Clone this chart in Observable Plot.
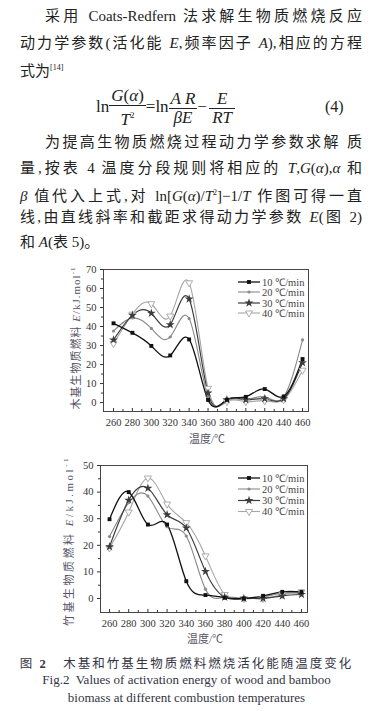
<!DOCTYPE html>
<html><head><meta charset="utf-8">
<script src="https://cdn.jsdelivr.net/npm/d3@7"></script>
<script src="https://cdn.jsdelivr.net/npm/@observablehq/plot@0.6"></script>
<style>
html,body{margin:0;padding:0;background:#fff;}
body{width:373px;height:711px;position:relative;overflow:hidden;font-family:"Liberation Serif","Noto Sans CJK SC",serif;color:#222;}
.ln{position:absolute;font-size:15px;line-height:20px;white-space:nowrap;}
.j{text-align:justify;text-align-last:justify;}
.it{font-style:italic;}
.frac{display:inline-flex;flex-direction:column;align-items:center;vertical-align:middle;line-height:18px;}
.frac .n{border-bottom:1px solid #222;padding:0 2px;}
.frac .d{padding:0 2px;}
.plot{position:absolute;left:0;}
.ylab{position:absolute;font-size:11px;color:#556;white-space:nowrap;transform:translate(-50%,-50%) rotate(-90deg);letter-spacing:1px;}
.xlab{position:absolute;font-size:11px;color:#556;white-space:nowrap;transform:translate(-50%,-50%);}
.cap{position:absolute;left:0;width:373px;text-align:center;white-space:nowrap;color:#334;}
</style></head>
<body>
<div class="ln j" style="top:6px;left:45px;width:317px;">采用 Coats-Redfern 法求解生物质燃烧反应</div>
<div class="ln j" style="top:33px;left:20px;width:342px;">动力学参数(活化能 <span class="it">E</span>,频率因子 <span class="it">A</span>),相应的方程</div>
<div class="ln" style="top:58px;left:20px;">式为<sup style="font-size:8px;">[14]</sup></div>
<div class="ln" style="top:87px;left:96px;line-height:40px;font-size:17px;">ln<span class="frac"><span class="n"><span class="it">G</span>(<span class="it">α</span>)</span><span class="d"><span class="it">T</span><sup style="font-size:9px;">2</sup></span></span>=ln<span class="frac"><span class="n"><span class="it">A R</span></span><span class="d"><span class="it">βE</span></span></span>−<span class="frac" style="margin-left:2px;"><span class="n" style="padding:0 8px;"><span class="it">E</span></span><span class="d"><span class="it">RT</span></span></span></div>
<div class="ln" style="top:97px;left:325px;font-size:16px;">(4)</div>
<div class="ln j" style="top:132px;left:45px;width:317px;">为提高生物质燃烧过程动力学参数求解 质</div>
<div class="ln j" style="top:158px;left:20px;width:342px;">量,按表 4 温度分段规则将相应的 <span class="it">T</span>,<span class="it">G</span>(<span class="it">α</span>),<span class="it">α</span> 和</div>
<div class="ln j" style="top:183px;left:20px;width:342px;"><span class="it">β</span> 值代入上式,对 ln[<span class="it">G</span>(<span class="it">α</span>)/<span class="it">T</span><sup style="font-size:8px;">2</sup>]−1/<span class="it">T</span> 作图可得一直</div>
<div class="ln j" style="top:207px;left:20px;width:342px;">线,由直线斜率和截距求得动力学参数 <span class="it">E</span>(图 2)</div>
<div class="ln" style="top:232px;left:20px;">和 <span class="it">A</span>(表 5)。</div>

<div id="c1" class="plot" style="top:255px;"></div>
<div id="c2" class="plot" style="top:450px;"></div>
<svg id="leg" style="position:absolute;left:0;top:0;width:373px;height:711px;pointer-events:none;"></svg>

<div class="ylab" style="left:75px;top:338px;">木基生物质燃料 <span class="it">E</span>/kJ.mol<sup style="font-size:7px;">-1</sup></div>
<div class="xlab" style="left:207px;top:438px;">温度/℃</div>
<div class="ylab" style="left:68px;top:541px;letter-spacing:2.5px;">竹基生物质燃料 <span class="it">E</span>/kJ.mol<sup style="font-size:7px;">-1</sup></div>
<div class="xlab" style="left:205px;top:638px;">温度/℃</div>

<div class="cap" style="top:653px;font-size:12.5px;letter-spacing:2px;">图 <b>2</b>&nbsp;&nbsp; 木基和竹基生物质燃料燃烧活化能随温度变化</div>
<div class="cap" style="top:672px;font-size:13px;">Fig.2&nbsp; Values of activation energy of wood and bamboo</div>
<div class="cap" style="top:690px;font-size:13px;">biomass at different combustion temperatures</div>

<script>
// ---- data ----
const temps = [260, 280, 300, 320, 340, 360, 380, 400, 420, 440, 460];
const rates = ["10 ℃/min", "20 ℃/min", "30 ℃/min", "40 ℃/min"];
// wood-based biomass activation energy E (kJ/mol)
const wood10 = [41.7, 36.7, 29.8, 24.8, 33.2, 1.4, 1.5, 3.0, 7.1, 3.2, 22.9];
const wood20 = [37.6, 44.5, 39.0, 34.5, 44.2, 3.0, 1.0, 1.5, 3.0, 3.0, 33.0];
const wood30 = [33.0, 46.0, 47.0, 41.0, 54.5, 5.0, 1.5, 1.5, 2.0, 2.0, 21.0];
const wood40 = [31.0, 46.5, 52.0, 45.5, 63.0, 7.5, 0.5, 0.5, 1.0, 1.5, 17.0];
// bamboo-based biomass activation energy E (kJ/mol)
const bamboo10 = [29.8, 40.0, 27.8, 27.8, 6.5, 1.3, 0.3, 0.0, 1.0, 2.5, 2.5];
const bamboo20 = [23.3, 36.0, 38.5, 27.0, 23.5, 3.5, 0.5, 0.0, 0.5, 2.0, 2.0];
const bamboo30 = [19.5, 37.0, 41.5, 31.5, 26.5, 10.2, 0.5, 0.0, 0.0, 1.0, 1.5];
const bamboo40 = [19.0, 32.5, 45.3, 35.5, 28.5, 16.0, 1.5, 0.0, 0.0, 1.5, 2.5];
const xTicks = [260, 280, 300, 320, 340, 360, 380, 400, 420, 440, 460];
const xMinor = [270, 290, 310, 330, 350, 370, 390, 410, 430, 450];
const yTicks1 = [0, 10, 20, 30, 40, 50, 60, 70];
const yMinor1 = [5, 15, 25, 35, 45, 55, 65];
const yTicks2 = [0, 10, 20, 30, 40, 50];
const yMinor2 = [5, 15, 25, 35, 45];

// ---- styles ----
const s3 = Math.sqrt(3);
const triDown = {draw(ctx, size) {
  const y = -Math.sqrt(size / (s3 * 3));
  ctx.moveTo(0, -y * 2); ctx.lineTo(-s3 * y, y); ctx.lineTo(s3 * y, y); ctx.closePath();
}};
const styles = [
  {stroke: "#111", width: 1.3, symbol: "square", fill: "#111", dotStroke: "none", r: 2.2},
  {stroke: "#8a8a8a", width: 1.1, symbol: "circle", fill: "#8a8a8a", dotStroke: "none", r: 1.6},
  {stroke: "#3c3c3c", width: 1.2, symbol: "star", fill: "#3c3c3c", dotStroke: "none", r: 2.8},
  {stroke: "#a6a6a6", width: 1.1, symbol: triDown, fill: "white", dotStroke: "#999", r: 2.6}
];

function tidy(arrs) {
  return arrs.map((vals, k) => temps.map((t, i) => ({t, e: vals[i], rate: rates[k]})));
}

function chart(arrs, opts) {
  const series = tidy(arrs);
  const marks = [
    Plot.frame({stroke: "#333", strokeWidth: 0.9}),
    Plot.axisY({ticks: opts.yTicks, tickSize: 3, tickPadding: 4, label: null, stroke: "#333"}),
    Plot.axisY({ticks: opts.yMinor, tickSize: 2, tickFormat: () => "", label: null, stroke: "#333"}),
    Plot.axisX({ticks: xTicks, tickSize: -3, tickPadding: 10, label: null, stroke: "#333"}),
    Plot.axisX({ticks: xMinor, tickSize: -2, tickFormat: () => "", label: null, stroke: "#333"})
  ];
  [3, 1, 2, 0].forEach(k => {
    const st = styles[k];
    marks.push(Plot.line(series[k], {x: "t", y: "e", curve: opts.curve, stroke: st.stroke, strokeWidth: st.width}));
  });
  [3, 1, 2, 0].forEach(k => {
    const st = styles[k];
    marks.push(Plot.dot(series[k], {x: "t", y: "e", symbol: st.symbol, r: st.r, fill: st.fill, stroke: st.dotStroke, strokeWidth: 0.8}));
  });
  return Plot.plot({
    width: 373, height: opts.height,
    marginLeft: opts.ml, marginRight: opts.mr, marginTop: opts.mt, marginBottom: opts.mb,
    x: {domain: opts.xd},
    y: {domain: opts.yd},
    style: {fontFamily: "Liberation Serif", fontSize: "10.5px", color: "#333", background: "transparent"},
    marks
  });
}

document.getElementById("c1").append(chart([wood10, wood20, wood30, wood40],
  {height: 190, ml: 103, mr: 65, mt: 14, mb: 34, xd: [249.4, 466.3], yd: [-4.7, 70], yTicks: yTicks1, yMinor: yMinor1, curve: "natural"}));
document.getElementById("c2").append(chart([bamboo10, bamboo20, bamboo30, bamboo40],
  {height: 200, ml: 100, mr: 66, mt: 15, mb: 38, xd: [250.6, 466.3], yd: [-5.26, 50], yTicks: yTicks2, yMinor: yMinor2, curve: "natural"}));

// ---- legends ----
const leg = d3.select("#leg");
function legend(rows) {
  rows.forEach((y, k) => {
    const st = styles[k];
    leg.append("line").attr("x1", 238).attr("x2", 260).attr("y1", y).attr("y2", y)
      .attr("stroke", st.stroke).attr("stroke-width", st.width);
    const symType = st.symbol === "square" ? d3.symbolSquare : st.symbol === "circle" ? d3.symbolCircle : st.symbol === "star" ? d3.symbolStar : triDown;
    leg.append("path").attr("d", d3.symbol(symType, st.r * st.r * Math.PI)())
      .attr("transform", `translate(249,${y})`).attr("fill", st.fill).attr("stroke", st.dotStroke).attr("stroke-width", 0.8);
    leg.append("text").attr("x", 262).attr("y", y).attr("dy", "0.35em")
      .attr("font-family", "Liberation Serif").attr("font-size", 10.5).attr("fill", "#444").text(rates[k]);
  });
}
legend([282, 292, 303, 313]);
legend([478, 489, 500.5, 511.5]);
</script>
</body></html>
